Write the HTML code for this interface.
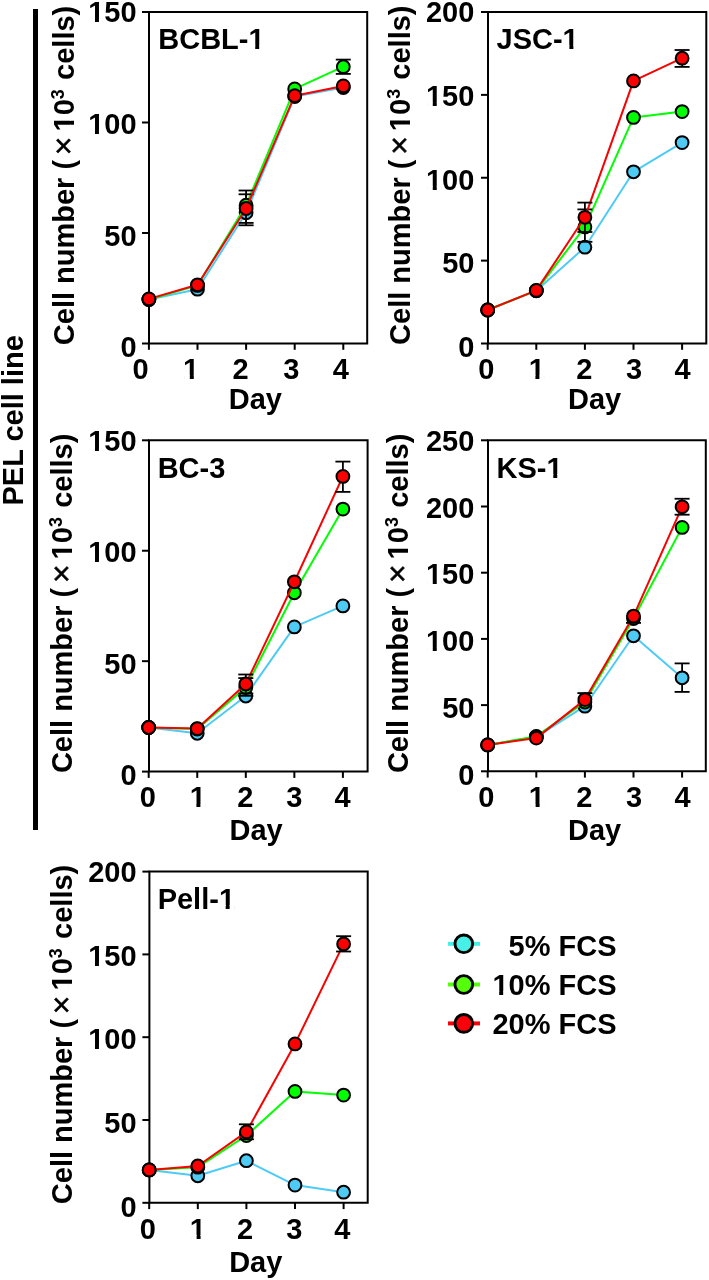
<!DOCTYPE html>
<html><head><meta charset="utf-8"><title>PEL cell line growth curves</title>
<style>html,body{margin:0;padding:0;background:#fff;width:709px;height:1280px;overflow:hidden}svg{display:block;will-change:transform}</style></head>
<body><svg width="709" height="1280" viewBox="0 0 709 1280" font-family="Liberation Sans, sans-serif" font-weight="bold">
<rect x="33" y="9" width="5" height="821" fill="#000"/>
<path d="M149,343.5 V12 H367.2 V343.5 Z" fill="none" stroke="#000" stroke-width="2"/>
<line x1="142.00" y1="343.50" x2="149.00" y2="343.50" stroke="#000" stroke-width="2"/>
<line x1="142.00" y1="233.00" x2="149.00" y2="233.00" stroke="#000" stroke-width="2"/>
<line x1="142.00" y1="122.50" x2="149.00" y2="122.50" stroke="#000" stroke-width="2"/>
<line x1="142.00" y1="12.00" x2="149.00" y2="12.00" stroke="#000" stroke-width="2"/>
<line x1="148.90" y1="343.50" x2="148.90" y2="349.80" stroke="#000" stroke-width="2"/>
<line x1="197.50" y1="343.50" x2="197.50" y2="349.80" stroke="#000" stroke-width="2"/>
<line x1="246.10" y1="343.50" x2="246.10" y2="349.80" stroke="#000" stroke-width="2"/>
<line x1="294.70" y1="343.50" x2="294.70" y2="349.80" stroke="#000" stroke-width="2"/>
<line x1="343.30" y1="343.50" x2="343.30" y2="349.80" stroke="#000" stroke-width="2"/>
<g transform="translate(88.20,22.40) scale(1,1.04)"><text x="0" y="0" font-size="29">150</text><path d="M1.23,-3.36H6.77V0.80H1.23ZM10.75,-3.36H15.92V0.80H10.75Z" fill="#fff"/></g>
<g transform="translate(88.20,133.95) scale(1,1.04)"><text x="0" y="0" font-size="29">100</text><path d="M1.23,-3.36H6.77V0.80H1.23ZM10.75,-3.36H15.92V0.80H10.75Z" fill="#fff"/></g>
<g transform="translate(104.33,245.50) scale(1,1.04)"><text x="0" y="0" font-size="29">50</text></g>
<g transform="translate(120.46,357.05) scale(1,1.04)"><text x="0" y="0" font-size="29">0</text></g>
<g transform="translate(132.41,378.80) scale(1,1.04)"><text x="0" y="0" font-size="29">0</text></g>
<g transform="translate(183.05,378.80) scale(1,1.04)"><text x="0" y="0" font-size="29">1</text><path d="M1.23,-3.36H6.77V0.80H1.23ZM10.75,-3.36H15.92V0.80H10.75Z" fill="#fff"/></g>
<g transform="translate(232.56,378.80) scale(1,1.04)"><text x="0" y="0" font-size="29">2</text></g>
<g transform="translate(283.13,378.80) scale(1,1.04)"><text x="0" y="0" font-size="29">3</text></g>
<g transform="translate(332.69,378.80) scale(1,1.04)"><text x="0" y="0" font-size="29">4</text></g>
<text x="228.76" y="408.80" font-size="29">Day</text>
<g transform="translate(158.26,48.70) scale(1,1.04)"><text x="0" y="0" font-size="29">BCBL-1</text><path d="M91.43,-3.36H96.97V0.80H91.43ZM100.95,-3.36H106.12V0.80H100.95Z" fill="#fff"/></g>
<g transform="translate(73.5,344) rotate(-90)"><text x="-1.19" y="0.00" font-size="29">Cell number (</text><text x="188.85" y="0" font-size="32" font-weight="normal" stroke="#000" stroke-width="0.5">×</text><text x="212.50" y="0.00" font-size="29">10</text><path d="M213.73,-3.36H219.27V0.80H213.73ZM223.25,-3.36H228.42V0.80H223.25Z" fill="#fff"/><text x="244.84" y="-9.9" font-size="18">3</text><text x="264.07" y="0.00" font-size="29">cells)</text></g>
<polyline points="148.90,299.60 197.50,289.20 246.10,212.80 294.70,96.50 343.30,87.50" fill="none" stroke="#4ecbf5" stroke-width="2" stroke-linejoin="round"/>
<circle cx="148.90" cy="299.60" r="6.4" fill="#4ecbf5" stroke="#000" stroke-width="2"/>
<circle cx="197.50" cy="289.20" r="6.4" fill="#4ecbf5" stroke="#000" stroke-width="2"/>
<circle cx="246.10" cy="212.80" r="6.4" fill="#4ecbf5" stroke="#000" stroke-width="2"/>
<circle cx="294.70" cy="96.50" r="6.4" fill="#4ecbf5" stroke="#000" stroke-width="2"/>
<circle cx="343.30" cy="87.50" r="6.4" fill="#4ecbf5" stroke="#000" stroke-width="2"/>
<polyline points="148.90,299.60 197.50,285.40 246.10,205.20 294.70,88.90 343.30,66.70" fill="none" stroke="#00ff00" stroke-width="2" stroke-linejoin="round"/>
<line x1="246.10" y1="190.50" x2="246.10" y2="222.90" stroke="#000" stroke-width="1.8"/>
<line x1="238.60" y1="190.50" x2="253.60" y2="190.50" stroke="#000" stroke-width="1.8"/>
<line x1="238.60" y1="222.90" x2="253.60" y2="222.90" stroke="#000" stroke-width="1.8"/>
<line x1="246.10" y1="194.30" x2="246.10" y2="225.30" stroke="#000" stroke-width="1.8"/>
<line x1="238.60" y1="194.30" x2="253.60" y2="194.30" stroke="#000" stroke-width="1.8"/>
<line x1="238.60" y1="225.30" x2="253.60" y2="225.30" stroke="#000" stroke-width="1.8"/>
<line x1="343.30" y1="59.60" x2="343.30" y2="73.90" stroke="#000" stroke-width="1.8"/>
<line x1="335.80" y1="59.60" x2="350.80" y2="59.60" stroke="#000" stroke-width="1.8"/>
<line x1="335.80" y1="73.90" x2="350.80" y2="73.90" stroke="#000" stroke-width="1.8"/>
<circle cx="148.90" cy="299.60" r="6.4" fill="#00ff00" stroke="#000" stroke-width="2"/>
<circle cx="197.50" cy="285.40" r="6.4" fill="#00ff00" stroke="#000" stroke-width="2"/>
<circle cx="246.10" cy="205.20" r="6.4" fill="#00ff00" stroke="#000" stroke-width="2"/>
<circle cx="294.70" cy="88.90" r="6.4" fill="#00ff00" stroke="#000" stroke-width="2"/>
<circle cx="343.30" cy="66.70" r="6.4" fill="#00ff00" stroke="#000" stroke-width="2"/>
<polyline points="148.90,298.90 197.50,284.80 246.10,208.50 294.70,95.70 343.30,85.90" fill="none" stroke="#fa0000" stroke-width="2" stroke-linejoin="round"/>
<circle cx="148.90" cy="298.90" r="6.4" fill="#fa0000" stroke="#000" stroke-width="2"/>
<circle cx="197.50" cy="284.80" r="6.4" fill="#fa0000" stroke="#000" stroke-width="2"/>
<circle cx="246.10" cy="208.50" r="6.4" fill="#fa0000" stroke="#000" stroke-width="2"/>
<circle cx="294.70" cy="95.70" r="6.4" fill="#fa0000" stroke="#000" stroke-width="2"/>
<circle cx="343.30" cy="85.90" r="6.4" fill="#fa0000" stroke="#000" stroke-width="2"/>
<path d="M488,343.5 V12 H706.3 V343.5 Z" fill="none" stroke="#000" stroke-width="2"/>
<line x1="481.00" y1="343.50" x2="488.00" y2="343.50" stroke="#000" stroke-width="2"/>
<line x1="481.00" y1="260.62" x2="488.00" y2="260.62" stroke="#000" stroke-width="2"/>
<line x1="481.00" y1="177.75" x2="488.00" y2="177.75" stroke="#000" stroke-width="2"/>
<line x1="481.00" y1="94.88" x2="488.00" y2="94.88" stroke="#000" stroke-width="2"/>
<line x1="481.00" y1="12.00" x2="488.00" y2="12.00" stroke="#000" stroke-width="2"/>
<line x1="487.70" y1="343.50" x2="487.70" y2="349.80" stroke="#000" stroke-width="2"/>
<line x1="536.30" y1="343.50" x2="536.30" y2="349.80" stroke="#000" stroke-width="2"/>
<line x1="584.90" y1="343.50" x2="584.90" y2="349.80" stroke="#000" stroke-width="2"/>
<line x1="633.50" y1="343.50" x2="633.50" y2="349.80" stroke="#000" stroke-width="2"/>
<line x1="682.10" y1="343.50" x2="682.10" y2="349.80" stroke="#000" stroke-width="2"/>
<g transform="translate(426.00,22.40) scale(1,1.04)"><text x="0" y="0" font-size="29">200</text></g>
<g transform="translate(426.00,106.05) scale(1,1.04)"><text x="0" y="0" font-size="29">150</text><path d="M1.23,-3.36H6.77V0.80H1.23ZM10.75,-3.36H15.92V0.80H10.75Z" fill="#fff"/></g>
<g transform="translate(426.00,189.70) scale(1,1.04)"><text x="0" y="0" font-size="29">100</text><path d="M1.23,-3.36H6.77V0.80H1.23ZM10.75,-3.36H15.92V0.80H10.75Z" fill="#fff"/></g>
<g transform="translate(442.13,273.35) scale(1,1.04)"><text x="0" y="0" font-size="29">50</text></g>
<g transform="translate(458.26,357.00) scale(1,1.04)"><text x="0" y="0" font-size="29">0</text></g>
<g transform="translate(478.31,378.90) scale(1,1.04)"><text x="0" y="0" font-size="29">0</text></g>
<g transform="translate(528.65,378.90) scale(1,1.04)"><text x="0" y="0" font-size="29">1</text><path d="M1.23,-3.36H6.77V0.80H1.23ZM10.75,-3.36H15.92V0.80H10.75Z" fill="#fff"/></g>
<g transform="translate(576.36,378.90) scale(1,1.04)"><text x="0" y="0" font-size="29">2</text></g>
<g transform="translate(625.93,378.90) scale(1,1.04)"><text x="0" y="0" font-size="29">3</text></g>
<g transform="translate(674.49,378.90) scale(1,1.04)"><text x="0" y="0" font-size="29">4</text></g>
<text x="567.96" y="408.80" font-size="29">Day</text>
<g transform="translate(496.56,48.80) scale(1,1.04)"><text x="0" y="0" font-size="29">JSC-1</text><path d="M67.30,-3.36H72.84V0.80H67.30ZM76.82,-3.36H81.99V0.80H76.82Z" fill="#fff"/></g>
<g transform="translate(410,343.7) rotate(-90)"><text x="-1.19" y="0.00" font-size="29">Cell number (</text><text x="188.85" y="0" font-size="32" font-weight="normal" stroke="#000" stroke-width="0.5">×</text><text x="212.50" y="0.00" font-size="29">10</text><path d="M213.73,-3.36H219.27V0.80H213.73ZM223.25,-3.36H228.42V0.80H223.25Z" fill="#fff"/><text x="244.84" y="-9.9" font-size="18">3</text><text x="264.07" y="0.00" font-size="29">cells)</text></g>
<polyline points="487.70,310.00 536.30,290.80 584.90,247.20 633.50,171.80 682.10,142.60" fill="none" stroke="#4ecbf5" stroke-width="2" stroke-linejoin="round"/>
<circle cx="487.70" cy="310.00" r="6.4" fill="#4ecbf5" stroke="#000" stroke-width="2"/>
<circle cx="536.30" cy="290.80" r="6.4" fill="#4ecbf5" stroke="#000" stroke-width="2"/>
<circle cx="584.90" cy="247.20" r="6.4" fill="#4ecbf5" stroke="#000" stroke-width="2"/>
<circle cx="633.50" cy="171.80" r="6.4" fill="#4ecbf5" stroke="#000" stroke-width="2"/>
<circle cx="682.10" cy="142.60" r="6.4" fill="#4ecbf5" stroke="#000" stroke-width="2"/>
<polyline points="487.70,310.00 536.30,290.60 584.90,226.90 633.50,117.40 682.10,111.60" fill="none" stroke="#00ff00" stroke-width="2" stroke-linejoin="round"/>
<line x1="584.90" y1="209.40" x2="584.90" y2="241.80" stroke="#000" stroke-width="1.8"/>
<line x1="577.40" y1="209.40" x2="592.40" y2="209.40" stroke="#000" stroke-width="1.8"/>
<line x1="577.40" y1="241.80" x2="592.40" y2="241.80" stroke="#000" stroke-width="1.8"/>
<circle cx="487.70" cy="310.00" r="6.4" fill="#00ff00" stroke="#000" stroke-width="2"/>
<circle cx="536.30" cy="290.60" r="6.4" fill="#00ff00" stroke="#000" stroke-width="2"/>
<circle cx="584.90" cy="226.90" r="6.4" fill="#00ff00" stroke="#000" stroke-width="2"/>
<circle cx="633.50" cy="117.40" r="6.4" fill="#00ff00" stroke="#000" stroke-width="2"/>
<circle cx="682.10" cy="111.60" r="6.4" fill="#00ff00" stroke="#000" stroke-width="2"/>
<polyline points="487.70,310.00 536.30,290.40 584.90,217.30 633.50,80.90 682.10,58.20" fill="none" stroke="#fa0000" stroke-width="2" stroke-linejoin="round"/>
<line x1="584.90" y1="202.60" x2="584.90" y2="232.00" stroke="#000" stroke-width="1.8"/>
<line x1="577.40" y1="202.60" x2="592.40" y2="202.60" stroke="#000" stroke-width="1.8"/>
<line x1="577.40" y1="232.00" x2="592.40" y2="232.00" stroke="#000" stroke-width="1.8"/>
<line x1="682.10" y1="50.00" x2="682.10" y2="66.90" stroke="#000" stroke-width="1.8"/>
<line x1="674.60" y1="50.00" x2="689.60" y2="50.00" stroke="#000" stroke-width="1.8"/>
<line x1="674.60" y1="66.90" x2="689.60" y2="66.90" stroke="#000" stroke-width="1.8"/>
<circle cx="487.70" cy="310.00" r="6.4" fill="#fa0000" stroke="#000" stroke-width="2"/>
<circle cx="536.30" cy="290.40" r="6.4" fill="#fa0000" stroke="#000" stroke-width="2"/>
<circle cx="584.90" cy="217.30" r="6.4" fill="#fa0000" stroke="#000" stroke-width="2"/>
<circle cx="633.50" cy="80.90" r="6.4" fill="#fa0000" stroke="#000" stroke-width="2"/>
<circle cx="682.10" cy="58.20" r="6.4" fill="#fa0000" stroke="#000" stroke-width="2"/>
<path d="M149,771.6 V440.3 H367.6 V771.6 Z" fill="none" stroke="#000" stroke-width="2"/>
<line x1="142.00" y1="771.60" x2="149.00" y2="771.60" stroke="#000" stroke-width="2"/>
<line x1="142.00" y1="661.17" x2="149.00" y2="661.17" stroke="#000" stroke-width="2"/>
<line x1="142.00" y1="550.73" x2="149.00" y2="550.73" stroke="#000" stroke-width="2"/>
<line x1="142.00" y1="440.30" x2="149.00" y2="440.30" stroke="#000" stroke-width="2"/>
<line x1="148.70" y1="771.60" x2="148.70" y2="777.90" stroke="#000" stroke-width="2"/>
<line x1="197.25" y1="771.60" x2="197.25" y2="777.90" stroke="#000" stroke-width="2"/>
<line x1="245.80" y1="771.60" x2="245.80" y2="777.90" stroke="#000" stroke-width="2"/>
<line x1="294.35" y1="771.60" x2="294.35" y2="777.90" stroke="#000" stroke-width="2"/>
<line x1="342.90" y1="771.60" x2="342.90" y2="777.90" stroke="#000" stroke-width="2"/>
<g transform="translate(88.20,450.80) scale(1,1.04)"><text x="0" y="0" font-size="29">150</text><path d="M1.23,-3.36H6.77V0.80H1.23ZM10.75,-3.36H15.92V0.80H10.75Z" fill="#fff"/></g>
<g transform="translate(88.20,562.30) scale(1,1.04)"><text x="0" y="0" font-size="29">100</text><path d="M1.23,-3.36H6.77V0.80H1.23ZM10.75,-3.36H15.92V0.80H10.75Z" fill="#fff"/></g>
<g transform="translate(104.33,673.80) scale(1,1.04)"><text x="0" y="0" font-size="29">50</text></g>
<g transform="translate(120.46,785.30) scale(1,1.04)"><text x="0" y="0" font-size="29">0</text></g>
<g transform="translate(139.71,807.40) scale(1,1.04)"><text x="0" y="0" font-size="29">0</text></g>
<g transform="translate(189.65,807.40) scale(1,1.04)"><text x="0" y="0" font-size="29">1</text><path d="M1.23,-3.36H6.77V0.80H1.23ZM10.75,-3.36H15.92V0.80H10.75Z" fill="#fff"/></g>
<g transform="translate(237.21,807.40) scale(1,1.04)"><text x="0" y="0" font-size="29">2</text></g>
<g transform="translate(286.13,807.40) scale(1,1.04)"><text x="0" y="0" font-size="29">3</text></g>
<g transform="translate(334.39,807.40) scale(1,1.04)"><text x="0" y="0" font-size="29">4</text></g>
<text x="229.46" y="839.60" font-size="29">Day</text>
<g transform="translate(157.66,477.50) scale(1,1.04)"><text x="0" y="0" font-size="29">BC-3</text></g>
<g transform="translate(71.9,771.9) rotate(-90)"><text x="-1.19" y="0.00" font-size="29">Cell number (</text><text x="188.85" y="0" font-size="32" font-weight="normal" stroke="#000" stroke-width="0.5">×</text><text x="212.50" y="0.00" font-size="29">10</text><path d="M213.73,-3.36H219.27V0.80H213.73ZM223.25,-3.36H228.42V0.80H223.25Z" fill="#fff"/><text x="244.84" y="-9.9" font-size="18">3</text><text x="264.07" y="0.00" font-size="29">cells)</text></g>
<polyline points="148.70,727.50 197.25,733.30 245.80,696.00 294.35,626.90 342.90,605.90" fill="none" stroke="#4ecbf5" stroke-width="2" stroke-linejoin="round"/>
<circle cx="148.70" cy="727.50" r="6.4" fill="#4ecbf5" stroke="#000" stroke-width="2"/>
<circle cx="197.25" cy="733.30" r="6.4" fill="#4ecbf5" stroke="#000" stroke-width="2"/>
<circle cx="245.80" cy="696.00" r="6.4" fill="#4ecbf5" stroke="#000" stroke-width="2"/>
<circle cx="294.35" cy="626.90" r="6.4" fill="#4ecbf5" stroke="#000" stroke-width="2"/>
<circle cx="342.90" cy="605.90" r="6.4" fill="#4ecbf5" stroke="#000" stroke-width="2"/>
<polyline points="148.70,727.50 197.25,729.00 245.80,687.50 294.35,592.80 342.90,509.10" fill="none" stroke="#00ff00" stroke-width="2" stroke-linejoin="round"/>
<line x1="245.80" y1="678.10" x2="245.80" y2="695.80" stroke="#000" stroke-width="1.8"/>
<line x1="238.30" y1="678.10" x2="253.30" y2="678.10" stroke="#000" stroke-width="1.8"/>
<line x1="238.30" y1="695.80" x2="253.30" y2="695.80" stroke="#000" stroke-width="1.8"/>
<circle cx="148.70" cy="727.50" r="6.4" fill="#00ff00" stroke="#000" stroke-width="2"/>
<circle cx="197.25" cy="729.00" r="6.4" fill="#00ff00" stroke="#000" stroke-width="2"/>
<circle cx="245.80" cy="687.50" r="6.4" fill="#00ff00" stroke="#000" stroke-width="2"/>
<circle cx="294.35" cy="592.80" r="6.4" fill="#00ff00" stroke="#000" stroke-width="2"/>
<circle cx="342.90" cy="509.10" r="6.4" fill="#00ff00" stroke="#000" stroke-width="2"/>
<polyline points="148.70,727.50 197.25,728.60 245.80,684.00 294.35,581.80 342.90,476.40" fill="none" stroke="#fa0000" stroke-width="2" stroke-linejoin="round"/>
<line x1="245.80" y1="674.50" x2="245.80" y2="693.50" stroke="#000" stroke-width="1.8"/>
<line x1="238.30" y1="674.50" x2="253.30" y2="674.50" stroke="#000" stroke-width="1.8"/>
<line x1="238.30" y1="693.50" x2="253.30" y2="693.50" stroke="#000" stroke-width="1.8"/>
<line x1="342.90" y1="461.60" x2="342.90" y2="491.90" stroke="#000" stroke-width="1.8"/>
<line x1="335.40" y1="461.60" x2="350.40" y2="461.60" stroke="#000" stroke-width="1.8"/>
<line x1="335.40" y1="491.90" x2="350.40" y2="491.90" stroke="#000" stroke-width="1.8"/>
<circle cx="148.70" cy="727.50" r="6.4" fill="#fa0000" stroke="#000" stroke-width="2"/>
<circle cx="197.25" cy="728.60" r="6.4" fill="#fa0000" stroke="#000" stroke-width="2"/>
<circle cx="245.80" cy="684.00" r="6.4" fill="#fa0000" stroke="#000" stroke-width="2"/>
<circle cx="294.35" cy="581.80" r="6.4" fill="#fa0000" stroke="#000" stroke-width="2"/>
<circle cx="342.90" cy="476.40" r="6.4" fill="#fa0000" stroke="#000" stroke-width="2"/>
<path d="M488,771.3 V440.3 H705.8 V771.3 Z" fill="none" stroke="#000" stroke-width="2"/>
<line x1="481.00" y1="771.30" x2="488.00" y2="771.30" stroke="#000" stroke-width="2"/>
<line x1="481.00" y1="705.10" x2="488.00" y2="705.10" stroke="#000" stroke-width="2"/>
<line x1="481.00" y1="638.90" x2="488.00" y2="638.90" stroke="#000" stroke-width="2"/>
<line x1="481.00" y1="572.70" x2="488.00" y2="572.70" stroke="#000" stroke-width="2"/>
<line x1="481.00" y1="506.50" x2="488.00" y2="506.50" stroke="#000" stroke-width="2"/>
<line x1="481.00" y1="440.30" x2="488.00" y2="440.30" stroke="#000" stroke-width="2"/>
<line x1="487.70" y1="771.30" x2="487.70" y2="777.60" stroke="#000" stroke-width="2"/>
<line x1="536.30" y1="771.30" x2="536.30" y2="777.60" stroke="#000" stroke-width="2"/>
<line x1="584.90" y1="771.30" x2="584.90" y2="777.60" stroke="#000" stroke-width="2"/>
<line x1="633.50" y1="771.30" x2="633.50" y2="777.60" stroke="#000" stroke-width="2"/>
<line x1="682.10" y1="771.30" x2="682.10" y2="777.60" stroke="#000" stroke-width="2"/>
<g transform="translate(426.00,450.60) scale(1,1.04)"><text x="0" y="0" font-size="29">250</text></g>
<g transform="translate(426.00,517.50) scale(1,1.04)"><text x="0" y="0" font-size="29">200</text></g>
<g transform="translate(426.00,584.40) scale(1,1.04)"><text x="0" y="0" font-size="29">150</text><path d="M1.23,-3.36H6.77V0.80H1.23ZM10.75,-3.36H15.92V0.80H10.75Z" fill="#fff"/></g>
<g transform="translate(426.00,651.30) scale(1,1.04)"><text x="0" y="0" font-size="29">100</text><path d="M1.23,-3.36H6.77V0.80H1.23ZM10.75,-3.36H15.92V0.80H10.75Z" fill="#fff"/></g>
<g transform="translate(442.13,718.20) scale(1,1.04)"><text x="0" y="0" font-size="29">50</text></g>
<g transform="translate(458.26,785.10) scale(1,1.04)"><text x="0" y="0" font-size="29">0</text></g>
<g transform="translate(478.31,807.40) scale(1,1.04)"><text x="0" y="0" font-size="29">0</text></g>
<g transform="translate(528.85,807.40) scale(1,1.04)"><text x="0" y="0" font-size="29">1</text><path d="M1.23,-3.36H6.77V0.80H1.23ZM10.75,-3.36H15.92V0.80H10.75Z" fill="#fff"/></g>
<g transform="translate(576.36,807.40) scale(1,1.04)"><text x="0" y="0" font-size="29">2</text></g>
<g transform="translate(625.93,807.40) scale(1,1.04)"><text x="0" y="0" font-size="29">3</text></g>
<g transform="translate(674.49,807.40) scale(1,1.04)"><text x="0" y="0" font-size="29">4</text></g>
<text x="567.96" y="839.80" font-size="29">Day</text>
<g transform="translate(496.56,477.50) scale(1,1.04)"><text x="0" y="0" font-size="29">KS-1</text><path d="M51.17,-3.36H56.71V0.80H51.17ZM60.69,-3.36H65.86V0.80H60.69Z" fill="#fff"/></g>
<g transform="translate(408.2,771.9) rotate(-90)"><text x="-1.19" y="0.00" font-size="29">Cell number (</text><text x="188.85" y="0" font-size="32" font-weight="normal" stroke="#000" stroke-width="0.5">×</text><text x="212.50" y="0.00" font-size="29">10</text><path d="M213.73,-3.36H219.27V0.80H213.73ZM223.25,-3.36H228.42V0.80H223.25Z" fill="#fff"/><text x="244.84" y="-9.9" font-size="18">3</text><text x="264.07" y="0.00" font-size="29">cells)</text></g>
<polyline points="487.70,744.90 536.30,736.80 584.90,706.20 633.50,635.80 682.10,677.80" fill="none" stroke="#4ecbf5" stroke-width="2" stroke-linejoin="round"/>
<line x1="682.10" y1="663.40" x2="682.10" y2="691.90" stroke="#000" stroke-width="1.8"/>
<line x1="674.60" y1="663.40" x2="689.60" y2="663.40" stroke="#000" stroke-width="1.8"/>
<line x1="674.60" y1="691.90" x2="689.60" y2="691.90" stroke="#000" stroke-width="1.8"/>
<circle cx="487.70" cy="744.90" r="6.4" fill="#4ecbf5" stroke="#000" stroke-width="2"/>
<circle cx="536.30" cy="736.80" r="6.4" fill="#4ecbf5" stroke="#000" stroke-width="2"/>
<circle cx="584.90" cy="706.20" r="6.4" fill="#4ecbf5" stroke="#000" stroke-width="2"/>
<circle cx="633.50" cy="635.80" r="6.4" fill="#4ecbf5" stroke="#000" stroke-width="2"/>
<circle cx="682.10" cy="677.80" r="6.4" fill="#4ecbf5" stroke="#000" stroke-width="2"/>
<polyline points="487.70,744.90 536.30,736.40 584.90,702.00 633.50,618.50 682.10,527.40" fill="none" stroke="#00ff00" stroke-width="2" stroke-linejoin="round"/>
<circle cx="487.70" cy="744.90" r="6.4" fill="#00ff00" stroke="#000" stroke-width="2"/>
<circle cx="536.30" cy="736.40" r="6.4" fill="#00ff00" stroke="#000" stroke-width="2"/>
<circle cx="584.90" cy="702.00" r="6.4" fill="#00ff00" stroke="#000" stroke-width="2"/>
<circle cx="633.50" cy="618.50" r="6.4" fill="#00ff00" stroke="#000" stroke-width="2"/>
<circle cx="682.10" cy="527.40" r="6.4" fill="#00ff00" stroke="#000" stroke-width="2"/>
<polyline points="487.70,744.90 536.30,738.10 584.90,699.60 633.50,616.10 682.10,506.80" fill="none" stroke="#fa0000" stroke-width="2" stroke-linejoin="round"/>
<line x1="584.90" y1="693.10" x2="584.90" y2="699.60" stroke="#000" stroke-width="1.8"/>
<line x1="577.40" y1="693.10" x2="592.40" y2="693.10" stroke="#000" stroke-width="1.8"/>
<line x1="633.50" y1="616.10" x2="633.50" y2="622.90" stroke="#000" stroke-width="1.8"/>
<line x1="626.00" y1="622.90" x2="641.00" y2="622.90" stroke="#000" stroke-width="1.8"/>
<line x1="682.10" y1="498.75" x2="682.10" y2="514.70" stroke="#000" stroke-width="1.8"/>
<line x1="674.60" y1="498.75" x2="689.60" y2="498.75" stroke="#000" stroke-width="1.8"/>
<line x1="674.60" y1="514.70" x2="689.60" y2="514.70" stroke="#000" stroke-width="1.8"/>
<circle cx="487.70" cy="744.90" r="6.4" fill="#fa0000" stroke="#000" stroke-width="2"/>
<circle cx="536.30" cy="738.10" r="6.4" fill="#fa0000" stroke="#000" stroke-width="2"/>
<circle cx="584.90" cy="699.60" r="6.4" fill="#fa0000" stroke="#000" stroke-width="2"/>
<circle cx="633.50" cy="616.10" r="6.4" fill="#fa0000" stroke="#000" stroke-width="2"/>
<circle cx="682.10" cy="506.80" r="6.4" fill="#fa0000" stroke="#000" stroke-width="2"/>
<path d="M149.4,1202.8 V871.6 H367.7 V1202.8 Z" fill="none" stroke="#000" stroke-width="2"/>
<line x1="142.40" y1="1202.80" x2="149.40" y2="1202.80" stroke="#000" stroke-width="2"/>
<line x1="142.40" y1="1120.00" x2="149.40" y2="1120.00" stroke="#000" stroke-width="2"/>
<line x1="142.40" y1="1037.20" x2="149.40" y2="1037.20" stroke="#000" stroke-width="2"/>
<line x1="142.40" y1="954.40" x2="149.40" y2="954.40" stroke="#000" stroke-width="2"/>
<line x1="142.40" y1="871.60" x2="149.40" y2="871.60" stroke="#000" stroke-width="2"/>
<line x1="149.20" y1="1202.80" x2="149.20" y2="1209.10" stroke="#000" stroke-width="2"/>
<line x1="197.80" y1="1202.80" x2="197.80" y2="1209.10" stroke="#000" stroke-width="2"/>
<line x1="246.40" y1="1202.80" x2="246.40" y2="1209.10" stroke="#000" stroke-width="2"/>
<line x1="295.00" y1="1202.80" x2="295.00" y2="1209.10" stroke="#000" stroke-width="2"/>
<line x1="343.60" y1="1202.80" x2="343.60" y2="1209.10" stroke="#000" stroke-width="2"/>
<g transform="translate(88.20,882.00) scale(1,1.04)"><text x="0" y="0" font-size="29">200</text></g>
<g transform="translate(88.20,965.65) scale(1,1.04)"><text x="0" y="0" font-size="29">150</text><path d="M1.23,-3.36H6.77V0.80H1.23ZM10.75,-3.36H15.92V0.80H10.75Z" fill="#fff"/></g>
<g transform="translate(88.20,1049.30) scale(1,1.04)"><text x="0" y="0" font-size="29">100</text><path d="M1.23,-3.36H6.77V0.80H1.23ZM10.75,-3.36H15.92V0.80H10.75Z" fill="#fff"/></g>
<g transform="translate(104.33,1132.95) scale(1,1.04)"><text x="0" y="0" font-size="29">50</text></g>
<g transform="translate(120.46,1216.60) scale(1,1.04)"><text x="0" y="0" font-size="29">0</text></g>
<g transform="translate(139.86,1238.50) scale(1,1.04)"><text x="0" y="0" font-size="29">0</text></g>
<g transform="translate(189.85,1238.50) scale(1,1.04)"><text x="0" y="0" font-size="29">1</text><path d="M1.23,-3.36H6.77V0.80H1.23ZM10.75,-3.36H15.92V0.80H10.75Z" fill="#fff"/></g>
<g transform="translate(237.01,1238.50) scale(1,1.04)"><text x="0" y="0" font-size="29">2</text></g>
<g transform="translate(286.23,1238.50) scale(1,1.04)"><text x="0" y="0" font-size="29">3</text></g>
<g transform="translate(334.29,1238.50) scale(1,1.04)"><text x="0" y="0" font-size="29">4</text></g>
<text x="229.16" y="1271.80" font-size="29">Day</text>
<g transform="translate(157.66,908.60) scale(1,1.04)"><text x="0" y="0" font-size="29">Pell-1</text><path d="M62.47,-3.36H68.01V0.80H62.47ZM71.99,-3.36H77.16V0.80H71.99Z" fill="#fff"/></g>
<g transform="translate(72.2,1203) rotate(-90)"><text x="-1.19" y="0.00" font-size="29">Cell number (</text><text x="188.85" y="0" font-size="32" font-weight="normal" stroke="#000" stroke-width="0.5">×</text><text x="212.50" y="0.00" font-size="29">10</text><path d="M213.73,-3.36H219.27V0.80H213.73ZM223.25,-3.36H228.42V0.80H223.25Z" fill="#fff"/><text x="244.84" y="-9.9" font-size="18">3</text><text x="264.07" y="0.00" font-size="29">cells)</text></g>
<polyline points="149.20,1169.90 197.80,1175.80 246.40,1160.70 295.00,1185.10 343.60,1192.20" fill="none" stroke="#4ecbf5" stroke-width="2" stroke-linejoin="round"/>
<circle cx="149.20" cy="1169.90" r="6.4" fill="#4ecbf5" stroke="#000" stroke-width="2"/>
<circle cx="197.80" cy="1175.80" r="6.4" fill="#4ecbf5" stroke="#000" stroke-width="2"/>
<circle cx="246.40" cy="1160.70" r="6.4" fill="#4ecbf5" stroke="#000" stroke-width="2"/>
<circle cx="295.00" cy="1185.10" r="6.4" fill="#4ecbf5" stroke="#000" stroke-width="2"/>
<circle cx="343.60" cy="1192.20" r="6.4" fill="#4ecbf5" stroke="#000" stroke-width="2"/>
<polyline points="149.20,1169.90 197.80,1167.20 246.40,1135.50 295.00,1091.40 343.60,1095.10" fill="none" stroke="#00ff00" stroke-width="2" stroke-linejoin="round"/>
<circle cx="149.20" cy="1169.90" r="6.4" fill="#00ff00" stroke="#000" stroke-width="2"/>
<circle cx="197.80" cy="1167.20" r="6.4" fill="#00ff00" stroke="#000" stroke-width="2"/>
<circle cx="246.40" cy="1135.50" r="6.4" fill="#00ff00" stroke="#000" stroke-width="2"/>
<circle cx="295.00" cy="1091.40" r="6.4" fill="#00ff00" stroke="#000" stroke-width="2"/>
<circle cx="343.60" cy="1095.10" r="6.4" fill="#00ff00" stroke="#000" stroke-width="2"/>
<polyline points="149.20,1169.90 197.80,1166.00 246.40,1131.90 295.00,1043.90 343.60,943.90" fill="none" stroke="#fa0000" stroke-width="2" stroke-linejoin="round"/>
<line x1="246.40" y1="1124.30" x2="246.40" y2="1139.30" stroke="#000" stroke-width="1.8"/>
<line x1="238.90" y1="1124.30" x2="253.90" y2="1124.30" stroke="#000" stroke-width="1.8"/>
<line x1="238.90" y1="1139.30" x2="253.90" y2="1139.30" stroke="#000" stroke-width="1.8"/>
<line x1="343.60" y1="936.20" x2="343.60" y2="951.50" stroke="#000" stroke-width="1.8"/>
<line x1="336.10" y1="936.20" x2="351.10" y2="936.20" stroke="#000" stroke-width="1.8"/>
<line x1="336.10" y1="951.50" x2="351.10" y2="951.50" stroke="#000" stroke-width="1.8"/>
<circle cx="149.20" cy="1169.90" r="6.4" fill="#fa0000" stroke="#000" stroke-width="2"/>
<circle cx="197.80" cy="1166.00" r="6.4" fill="#fa0000" stroke="#000" stroke-width="2"/>
<circle cx="246.40" cy="1131.90" r="6.4" fill="#fa0000" stroke="#000" stroke-width="2"/>
<circle cx="295.00" cy="1043.90" r="6.4" fill="#fa0000" stroke="#000" stroke-width="2"/>
<circle cx="343.60" cy="943.90" r="6.4" fill="#fa0000" stroke="#000" stroke-width="2"/>
<line x1="448" y1="943.8" x2="480" y2="943.8" stroke="#46f0e6" stroke-width="4"/>
<circle cx="463.8" cy="943.8" r="8.85" fill="#46f0e6" stroke="#000" stroke-width="2.9"/>
<g transform="translate(508.56,955.50) scale(1,1.04)"><text x="0" y="0" font-size="29">5% FCS</text></g>
<line x1="448" y1="984.5" x2="480" y2="984.5" stroke="#55ff0a" stroke-width="4"/>
<circle cx="463.8" cy="984.5" r="8.85" fill="#55ff0a" stroke="#000" stroke-width="2.9"/>
<g transform="translate(492.43,994.80) scale(1,1.04)"><text x="0" y="0" font-size="29">10% FCS</text><path d="M1.23,-3.36H6.77V0.80H1.23ZM10.75,-3.36H15.92V0.80H10.75Z" fill="#fff"/></g>
<line x1="448" y1="1023.4" x2="480" y2="1023.4" stroke="#fa000a" stroke-width="4"/>
<circle cx="463.8" cy="1023.4" r="8.85" fill="#fa000a" stroke="#000" stroke-width="2.9"/>
<g transform="translate(492.43,1033.90) scale(1,1.04)"><text x="0" y="0" font-size="29">20% FCS</text></g>
<g transform="translate(23.4,505.53994140625) rotate(-90)"><text x="0.00" y="0.00" font-size="29">PEL cell line</text></g>
</svg></body></html>
